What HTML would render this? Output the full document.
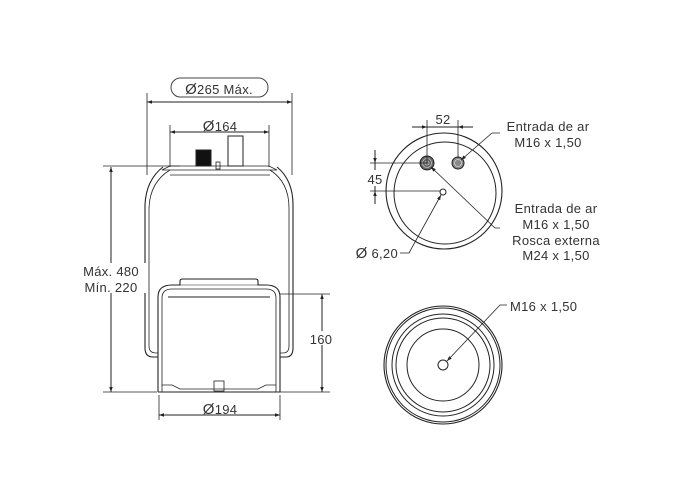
<!DOCTYPE html>
<html><head><meta charset="utf-8"><style>
html,body{margin:0;padding:0;background:#fff;}
svg{display:block;}
text{font-family:"Liberation Sans",sans-serif;font-size:13px;letter-spacing:0.3px;fill:#333;}
.o{font-size:15px;}
</style></head><body>
<svg width="688" height="490" viewBox="0 0 688 490" xmlns="http://www.w3.org/2000/svg">
<defs>
<marker id="a" viewBox="0 0 10 10" refX="10" refY="5" markerWidth="9" markerHeight="5" orient="auto-start-reverse" markerUnits="userSpaceOnUse"><path d="M0,1.5 L10,5 L0,8.5z" fill="#222"/></marker>
</defs>
<g fill="none" stroke="#222" stroke-width="1">
<rect x="171" y="78" width="97" height="19" rx="9.5" stroke="#444"/>
<line x1="147" y1="93" x2="147" y2="175" stroke-width="0.8"/>
<line x1="292" y1="93" x2="292" y2="175" stroke-width="0.8"/>
<line x1="147" y1="102" x2="292" y2="102" marker-start="url(#a)" marker-end="url(#a)"/>
<line x1="170" y1="125" x2="170" y2="167" stroke-width="0.8"/>
<line x1="269" y1="125" x2="269" y2="167" stroke-width="0.8"/>
<line x1="170" y1="132" x2="269" y2="132" marker-start="url(#a)" marker-end="url(#a)"/>
<rect x="196" y="150" width="15" height="16" fill="#111"/>
<rect x="228" y="136" width="15" height="30" fill="#fff"/>
<rect x="216" y="162" width="4" height="7" fill="#fff" stroke-width="0.8"/>
<line x1="103" y1="166" x2="180" y2="166" stroke-width="0.8"/>
<path d="M170,166 L269,166 L277,170 L162,170 Z" stroke-width="0.8"/>
<line x1="170" y1="175" x2="270" y2="175" stroke-width="0.8"/>
<path d="M163,167 Q146,180 145,205 L145,348 Q145,357 153,357 L158,357 M277,167 Q293,180 293,205 L293,348 Q293,357 286,357 L280,357" stroke-width="1.1"/>
<path d="M170,170 Q150,182 149,208 L149,346 Q149,353 156,353 L158,353 M270,170 Q289,182 289,208 L289,346 Q289,353 283,353 L280,353" stroke-width="0.8"/>
<path d="M158,392 L158,297 Q158,285 172,285 L180,285 L180,281 Q180,279 183,279 L255,279 Q258,279 258,281 L258,285 L266,285 Q280,285 280,297 L280,392" stroke-width="1.1"/>
<path d="M162,392 L162,298 Q162,289 172,289 L266,289 Q276,289 276,298 L276,392" stroke-width="0.8"/>
<line x1="168" y1="297" x2="270" y2="297"/>
<line x1="180" y1="285" x2="258" y2="285" stroke-width="0.6"/>
<path d="M162,385 L172,385 L180,389 L258,389 L266,385 L276,385" stroke-width="0.8"/>
<rect x="214" y="381" width="10" height="10" stroke-width="0.8"/>
<line x1="103" y1="392" x2="157" y2="392" stroke-width="0.8"/>
<line x1="158" y1="392" x2="280" y2="392"/>
<line x1="280" y1="392" x2="330" y2="392" stroke-width="0.8"/>
<line x1="111" y1="167" x2="111" y2="392" marker-start="url(#a)" marker-end="url(#a)"/>
<line x1="280" y1="294" x2="330" y2="294" stroke-width="0.8"/>
<line x1="322" y1="294" x2="322" y2="392" marker-start="url(#a)" marker-end="url(#a)"/>
<line x1="159" y1="395" x2="159" y2="420" stroke-width="0.8"/>
<line x1="280" y1="395" x2="280" y2="420" stroke-width="0.8"/>
<line x1="159" y1="415" x2="280" y2="415" marker-start="url(#a)" marker-end="url(#a)"/>

<circle cx="444" cy="191" r="58" stroke-width="1.1"/>
<circle cx="445" cy="193" r="51"/>
<circle cx="427" cy="163" r="7" fill="#666"/>
<circle cx="427" cy="163" r="4.5" stroke="#ddd" stroke-width="0.6"/>
<circle cx="427" cy="163" r="2" stroke="#ddd" stroke-width="0.6"/>
<circle cx="458" cy="163" r="6" fill="#888"/>
<circle cx="458" cy="163" r="3.5" stroke="#eee" stroke-width="0.6"/>
<circle cx="443" cy="192" r="3" fill="#fff"/>
<line x1="427" y1="120" x2="427" y2="163" stroke-width="0.8"/>
<line x1="458" y1="120" x2="458" y2="158" stroke-width="0.8"/>
<line x1="412" y1="127" x2="427" y2="127" marker-end="url(#a)"/>
<line x1="473" y1="127" x2="458" y2="127" marker-end="url(#a)"/>
<line x1="427" y1="127" x2="458" y2="127"/>
<line x1="370" y1="163" x2="427" y2="163" stroke-width="0.8"/>
<line x1="370" y1="191" x2="440" y2="191" stroke-width="0.8"/>
<line x1="375" y1="150" x2="375" y2="163" marker-end="url(#a)"/>
<line x1="375" y1="204" x2="375" y2="191" marker-end="url(#a)"/>
<line x1="375" y1="163" x2="375" y2="170"/>
<line x1="375" y1="186" x2="375" y2="191"/>
<polyline points="500,133 492,133 461,160" stroke-width="0.8" marker-end="url(#a)"/>
<polyline points="500,228 495,228 431,167" stroke-width="0.8" marker-end="url(#a)"/>
<polyline points="400,253 409,253 441,195" stroke-width="0.8" marker-end="url(#a)"/>

<circle cx="443" cy="365" r="59" stroke-width="1.1"/>
<circle cx="443" cy="365" r="57"/>
<circle cx="443" cy="365" r="51"/>
<circle cx="443" cy="365" r="47"/>
<circle cx="443" cy="365" r="36"/>
<circle cx="443" cy="365" r="5"/>
<polyline points="507,305 500,305 447,361" stroke-width="0.8" marker-end="url(#a)"/>
</g>
<g>
<text x="219" y="94" text-anchor="middle"><tspan class="o">Ø</tspan>265 Máx.</text>
<text x="220" y="131" text-anchor="middle"><tspan class="o">Ø</tspan>164</text>
<rect x="76" y="263" width="70" height="30" fill="#fff"/>
<text x="111" y="276" text-anchor="middle">Máx. 480</text>
<text x="111" y="292" text-anchor="middle">Mín. 220</text>
<rect x="309" y="331" width="26" height="14" fill="#fff"/>
<text x="321" y="344" text-anchor="middle">160</text>
<text x="220" y="414" text-anchor="middle"><tspan class="o">Ø</tspan>194</text>
<text x="443" y="124" text-anchor="middle">52</text>
<rect x="366" y="172" width="18" height="13" fill="#fff"/>
<text x="375" y="184" text-anchor="middle">45</text>
<text x="548" y="131" text-anchor="middle">Entrada de ar</text>
<text x="548" y="147" text-anchor="middle">M16 x 1,50</text>
<text x="556" y="213" text-anchor="middle">Entrada de ar</text>
<text x="556" y="229" text-anchor="middle">M16 x 1,50</text>
<text x="556" y="245" text-anchor="middle">Rosca externa</text>
<text x="556" y="260" text-anchor="middle">M24 x 1,50</text>
<text x="398" y="258" text-anchor="end"><tspan class="o">Ø</tspan> 6,20</text>
<text x="510" y="311">M16 x 1,50</text>
</g>
</svg>
</body></html>
